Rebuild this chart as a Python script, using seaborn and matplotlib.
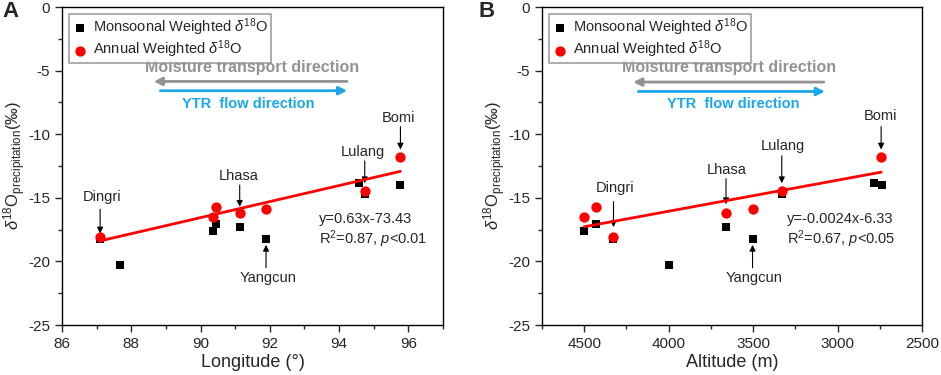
import numpy as np
import pandas as pd
import seaborn as sns
import matplotlib.pyplot as plt
from matplotlib.ticker import MultipleLocator

# station data
stations_m = ["Dingri", "S2", "S3", "S4", "Lhasa", "Yangcun", "S7", "Lulang", "Bomi"]
lon_m = [87.10, 87.68, 90.35, 90.45, 91.13, 91.89, 94.56, 94.74, 95.77]
alt_m = [4327, 4000, 4500, 4429, 3661, 3504, 2788, 3331, 2739]
d18o_m = [-18.2, -20.3, -17.6, -17.05, -17.3, -18.2, -13.8, -14.7, -14.0]

lon_a = [87.10, 90.35, 90.45, 91.13, 91.89, 94.74, 95.77]
alt_a = [4327, 4500, 4429, 3661, 3504, 3331, 2743]
d18o_a = [-18.1, -16.5, -15.7, -16.2, -15.9, -14.5, -11.8]

# (label, text x, text y, arrow start y, arrow end y, arrow x)
labels_a = [("Dingri", 87.15, -14.9, -15.9, -17.8, 87.1),
            ("Lhasa", 91.1, -13.25, -14.0, -15.7, 91.13),
            ("Yangcun", 91.95, -21.3, -20.5, -18.7, 91.89),
            ("Lulang", 94.7, -11.4, -12.1, -13.85, 94.74),
            ("Bomi", 95.72, -8.7, -9.4, -11.2, 95.77)]
labels_b = [("Dingri", 4318, -14.2, -15.3, -17.3, 4327),
            ("Lhasa", 3657, -12.8, -13.5, -15.5, 3661),
            ("Yangcun", 3494, -21.3, -20.5, -18.7, 3504),
            ("Lulang", 3322, -10.9, -11.7, -13.85, 3331),
            ("Bomi", 2749, -8.6, -9.4, -11.2, 2743)]

sns.set_theme(style="ticks")
plt.rcParams["font.family"] = ["Liberation Sans", "DejaVu Sans"]
plt.rcParams["mathtext.fontset"] = "custom"
plt.rcParams["mathtext.rm"] = "Liberation Sans"
plt.rcParams["mathtext.it"] = "Liberation Sans:italic"
plt.rcParams["axes.unicode_minus"] = False

fig = plt.figure(figsize=(9.41, 3.75), dpi=100)
ax_a = fig.add_axes([0.0659, 0.1333, 0.4049, 0.848])
ax_b = fig.add_axes([0.576, 0.1333, 0.404, 0.848])


def draw_panel(ax, xm, xa, xlabel, xlim, eq, r2, eq_xy, labels,
               moist, grey_arrow, blue_arrow, ytr):
    sns.scatterplot(x=xm, y=d18o_m, ax=ax, marker="s", s=38, color="black",
                    edgecolor="black", linewidth=0, zorder=3,
                    label=r"Monsoonal Weighted $\delta^{18}$O")
    sns.scatterplot(x=xa, y=d18o_a, ax=ax, marker="o", s=55, color="#ff0000",
                    edgecolor="#ff0000", linewidth=0, zorder=4,
                    label=r"Annual Weighted $\delta^{18}$O")
    sns.regplot(x=np.array(xa), y=np.array(d18o_a), ax=ax, scatter=False,
                ci=None, color="#ff0000", line_kws={"lw": 2, "zorder": 5})

    ax.set_xlim(*xlim)
    ax.set_ylim(-25, 0)
    ax.yaxis.set_major_locator(MultipleLocator(5))
    ax.yaxis.set_minor_locator(MultipleLocator(2.5))
    if xlim[0] < xlim[1]:
        ax.xaxis.set_major_locator(MultipleLocator(2))
        ax.xaxis.set_minor_locator(MultipleLocator(1))
    else:
        ax.xaxis.set_major_locator(MultipleLocator(500))
        ax.xaxis.set_minor_locator(MultipleLocator(250))
    ax.tick_params(which="both", direction="out", labelsize=11, width=1,
                   top=False, right=False)
    ax.tick_params(which="major", length=5)
    ax.tick_params(which="minor", length=3)
    for sp in ax.spines.values():
        sp.set_visible(True)
        sp.set_linewidth(1)
        sp.set_color("black")

    ax.set_xlabel(xlabel, fontsize=13, labelpad=2)
    ax.set_ylabel(r"$\delta^{18}$O$_{\mathrm{precipitation}}$(‰)", fontsize=12,
                  labelpad=0)

    leg = ax.legend(loc="upper left", fontsize=10.5, frameon=True,
                    fancybox=False, edgecolor="#888888", handletextpad=0.3,
                    borderaxespad=0.45, borderpad=0.2, labelspacing=0.05,
                    handlelength=1.2, markerscale=1.0)
    leg.get_frame().set_linewidth(1.2)

    for name, tx, ty, y0, y1, axx in labels:
        ax.text(tx, ty, name, ha="center", va="center", fontsize=10.5)
        ax.annotate("", xy=(axx, y1), xytext=(axx, y0),
                    arrowprops=dict(arrowstyle="-|>", color="black", lw=0.8,
                                    mutation_scale=9, shrinkA=0, shrinkB=0))

    ax.text(eq_xy[0], eq_xy[1], eq, ha="left", va="center", fontsize=10.5)
    ax.text(eq_xy[0], eq_xy[1] - 1.55, r2, ha="left", va="center", fontsize=10.5)

    ax.text(moist[0], moist[1], "Moisture transport direction", color="#939393",
            fontweight="bold", ha="center", va="center", fontsize=11.5)
    ax.annotate("", xy=(grey_arrow[1], grey_arrow[2]),
                xytext=(grey_arrow[0], grey_arrow[2]),
                arrowprops=dict(arrowstyle="-|>", color="#939393", lw=2,
                                mutation_scale=12, shrinkA=0, shrinkB=0))
    ax.annotate("", xy=(blue_arrow[1], blue_arrow[2]),
                xytext=(blue_arrow[0], blue_arrow[2]),
                arrowprops=dict(arrowstyle="-|>", color="#1aa7ec", lw=2,
                                mutation_scale=12, shrinkA=0, shrinkB=0))
    ax.text(ytr[0], ytr[1], "YTR  flow direction", color="#1aa7ec",
            fontweight="bold", ha="center", va="center", fontsize=10.5)


draw_panel(ax_a, lon_m, lon_a, "Longitude (°)", (86, 97),
           "y=0.63x-73.43", r"R$^2$=0.87, $p$<0.01", (93.41, -16.7), labels_a,
           (91.49, -4.75), (94.23, 88.65, -5.85), (88.84, 94.23, -6.58),
           (91.39, -7.6))
draw_panel(ax_b, alt_m, alt_a, "Altitude (m)", (4750, 2500),
           "y=-0.0024x-6.33", r"R$^2$=0.67, $p$<0.05", (3298, -16.7), labels_b,
           (3641, -4.75), (3082, 4210, -5.9), (4180, 3076, -6.64),
           (3616, -7.6))

fig.text(0.003, 0.955, "A", fontsize=16, fontweight="bold")
fig.text(0.508, 0.955, "B", fontsize=16, fontweight="bold")

fig.savefig("out.png", dpi=100)
